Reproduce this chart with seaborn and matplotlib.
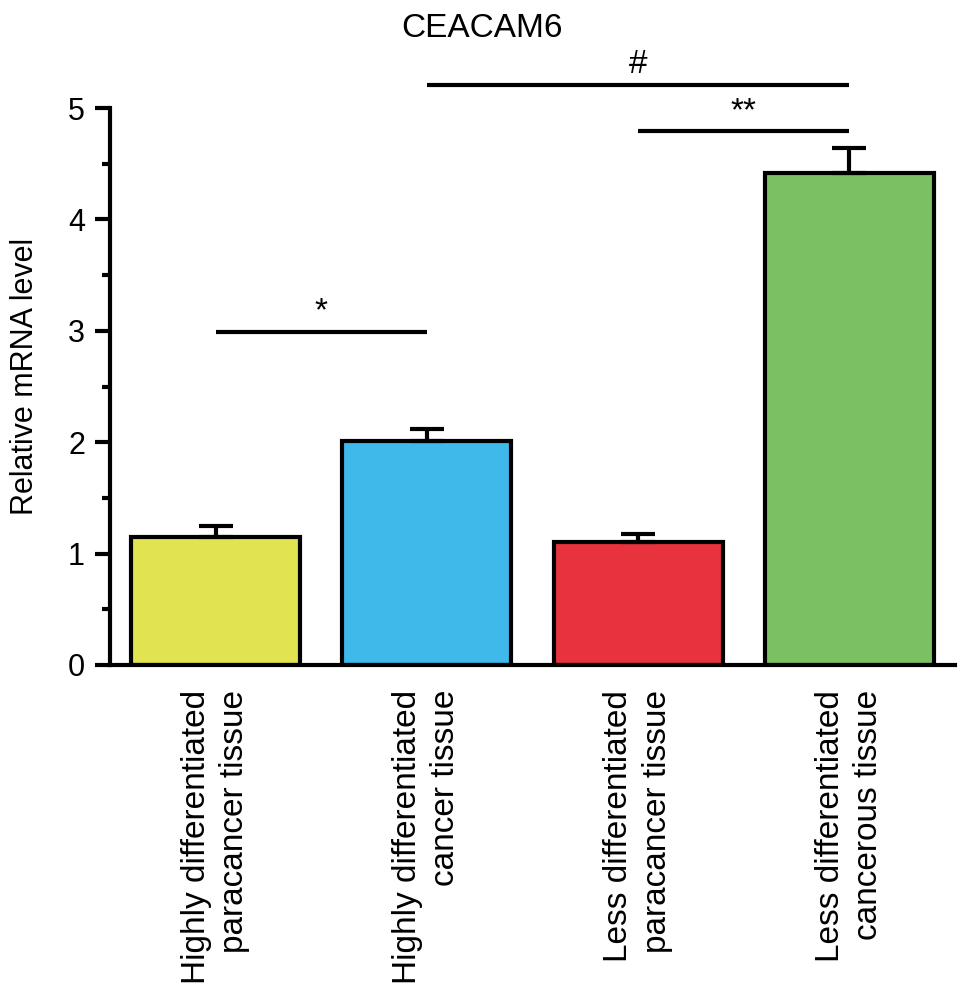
import matplotlib
matplotlib.use('Agg')
import matplotlib.pyplot as plt
import seaborn as sns

# values
categories = ['Highly differentiated\nparacancer tissue',
              'Highly differentiated\ncancer tissue',
              'Less differentiated\nparacancer tissue',
              'Less differentiated\ncancerous tissue']
means = [1.15, 2.01, 1.10, 4.42]
sem = [0.10, 0.11, 0.08, 0.22]
bar_colors = ['#e2e350', '#3eb9ea', '#e8333f', '#7bc163']

# significance brackets: (first bar, last bar, height, mark)
sig_start = [0, 2, 1]
sig_end = [1, 3, 3]
sig_height = [2.99, 4.79, 5.21]
sig_marks = ['*', '**', '#']

sns.set_theme(style='ticks')
plt.rcParams['font.family'] = ['Liberation Sans', 'DejaVu Sans']
plt.rcParams['text.color'] = 'black'
plt.rcParams['axes.labelcolor'] = 'black'
plt.rcParams['xtick.color'] = 'black'
plt.rcParams['ytick.color'] = 'black'

fig = plt.figure(figsize=(9.69, 9.94), dpi=100)
ax = fig.add_axes([0.1135, 0.331, 0.872, 0.5603])

sns.barplot(x=categories, y=means, hue=categories, palette=bar_colors,
            legend=False, edgecolor='black', linewidth=3, width=0.8,
            saturation=1, ax=ax)

# upper error bars only
ax.errorbar(range(len(means)), means, yerr=[[0] * len(sem), sem],
            fmt='none', ecolor='black', elinewidth=3, capsize=12,
            capthick=3, zorder=1)

for a, b, h, m in zip(sig_start, sig_end, sig_height, sig_marks):
    ax.plot([a, b], [h, h], color='black', lw=3, clip_on=False,
            solid_capstyle='butt')
    ax.text((a + b) / 2, h + 0.04, m, ha='center', va='bottom',
            fontsize=24, clip_on=False)

ax.set_ylim(0, 5)
ax.set_xlim(-0.5, 3.5)
ax.set_yticks([0, 1, 2, 3, 4, 5])
ax.set_yticks([0.5, 1.5, 2.5, 3.5, 4.5], minor=True)
ax.set_ylabel('Relative mRNA level', fontsize=22, labelpad=20)
ax.yaxis.label.set_y(0.518)
ax.tick_params(axis='y', which='major', length=11, width=3, pad=7,
               labelsize=22)
ax.tick_params(axis='y', which='minor', length=6, width=3)
ax.tick_params(axis='x', length=0, pad=18)
for lbl in ax.get_xticklabels():
    lbl.set_rotation(90)
    lbl.set_fontsize(24)
    lbl.set_linespacing(1.3)
    lbl.set_multialignment('right')
    lbl.set_va('top')
    lbl.set_ha('center')

sns.despine(ax=ax)
for side in ['left', 'bottom']:
    ax.spines[side].set_linewidth(3)
    ax.spines[side].set_color('black')

fig.text(0.497, 0.971, 'CEACAM6', ha='center', va='center', fontsize=24)

fig.savefig('out.png', dpi=100)
